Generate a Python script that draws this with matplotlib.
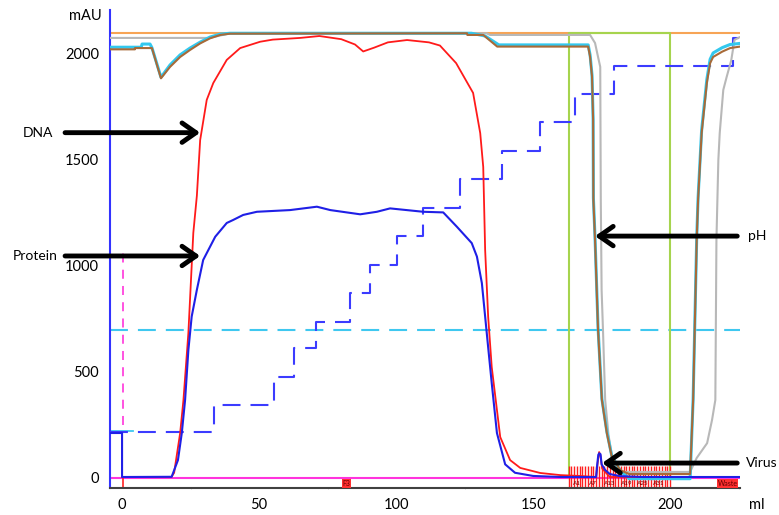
import numpy as np
from matplotlib import pyplot as plt
from matplotlib.ticker import MultipleLocator

plt.rcParams['font.family'] = ['Lato', 'DejaVu Sans']

# --- chromatogram traces (ml, mAU) ---

# DNA (red)
dna_ml = [0, 18, 19, 21.2, 22.4, 24.2, 26.0, 27.3, 28.5, 30.9, 33.3, 38.2, 43.1, 50.4,
          55, 65, 72, 80, 85, 88, 92, 97, 104, 112, 116, 121.9, 128.1, 130.7, 131.8,
          132.5, 133.6, 134.9, 138.0, 141.6, 145.3, 152.6, 159.9, 167, 173, 173.6,
          174.1, 174.6, 175.2, 178, 225.5]
dna_mau = [0, 0, 20, 208, 364, 681, 1154, 1330, 1593, 1783, 1863, 1972, 2028, 2058,
           2068, 2076, 2085, 2070, 2045, 2012, 2030, 2055, 2066, 2055, 2040, 1957, 1816,
           1626, 1466, 1073, 757, 520, 189, 80, 43, 19, 9, 5, 0, 70,
           118, 100, 40, 0, 0]

# Protein (blue)
prot_ml = [-4.4, 0, 0, 18.1, 20.4, 21.8, 23.0, 24.2, 25.4, 27.3, 29.6, 34.0, 38.2, 40.5,
           44.2, 49.2, 61.3, 71.1, 76.0, 86.9, 93.0, 97.8, 109.9, 117.2, 122.2, 127.6,
           129.5, 131.3, 132.5, 133.7, 134.9, 136.8, 139.8, 143.4, 150, 160, 173.0,
           173.4, 173.8, 174.1, 174.6, 175.0, 176.3, 178, 181.8, 190, 225.5]
prot_mau = [208, 208, 0, 1, 80, 208, 364, 600, 758, 885, 1026, 1136, 1201, 1215,
            1239, 1254, 1262, 1278, 1262, 1242, 1254, 1270, 1254, 1251, 1183, 1106,
            1042, 917, 758, 600, 444, 208, 60, 20, 5, 0, 0,
            60, 105, 112, 108, 60, 33, 14, 4, 0, 0]

# pH (brown) and its cyan companion trace
ph_ml = [-4.4, 4.7, 4.7, 10.9, 14.2, 17.5, 21.2, 24.8, 28.5, 32.1, 35.8, 39.4, 125.9,
         126.0, 131.8, 136.9, 170.1, 170.8, 171.5, 171.9, 172.0, 172.6, 173.7, 175.1,
         176.9, 178.7, 181.8, 185, 207.3, 208.4, 209.7, 210.2, 211.5, 213.4, 214.6,
         215.7, 219.0, 221.9, 225.5]
ph_mau = [2022, 2022, 2028, 2028, 1885, 1939, 1986, 2019, 2050, 2074, 2090, 2096, 2098,
          2090, 2090, 2035, 2035, 1986, 1893, 1688, 1310, 1121, 695, 364,
          208, 96, 33, 14, 14, 364, 1121, 1310, 1626, 1863, 1957,
          1986, 2011, 2028, 2035]

cyan_ml = [-4.4, 7.0, 7.3, 10.2, 10.9, 14.2, 17.5, 21.2, 24.8, 28.5, 32.1, 35.8, 39.4,
           127.5, 132.5, 137.5, 170.1, 170.8, 171.5, 171.9, 172.0, 172.6, 173.7, 175.1,
           176.9, 178.7, 181.8, 185, 207.3, 208.4, 209.7, 210.2, 211.5, 213.4, 214.6,
           215.7, 219.0, 221.9, 225.5]
cyan_mau = [2032, 2032, 2047, 2047, 2030, 1890, 1948, 1996, 2028, 2056, 2080, 2094, 2098,
            2098, 2085, 2043, 2043, 1995, 1900, 1695, 1320, 1130, 705, 370,
            215, 100, 30, -8, -8, 370, 1130, 1320, 1640, 1880, 1975,
            2005, 2030, 2045, 2050]

# grey trace
grey_ml = [-4.4, 25, 32, 39.4, 133, 134.3, 170.8, 172.6, 173.7, 174.5, 174.7, 175.0,
           175.5, 176.3, 177.5, 179, 180.7, 207.3, 209.7, 213.5, 215.3, 216.5, 216.9,
           217.6, 218.1, 219.4, 220.6, 222.3, 223.5, 225.5]
grey_mau = [2076, 2076, 2076, 2098, 2098, 2090, 2090, 2052, 1986, 1939, 1310, 884,
            695, 364, 200, 80, 24, 24, 90, 160, 270, 364, 1121,
            1499, 1626, 1830, 1890, 1970, 2067, 2080]

# gradient steps (dashed blue)
step_ml = [-4.4, 33.6, 55.5, 62.8, 70.8, 83.2, 90.5, 100.4, 109.9, 123.4, 138.7, 152.6,
           165.3, 179.6, 223.0, 225.5]
step_mau = [214, 340, 474, 609, 734, 871, 1002, 1141, 1273, 1409, 1543, 1680, 1811,
            1943, 2076, 2076]

orange_level = 2098
cyan_level = 695
pool_start, pool_end = 163.1, 200.0
inject_ml = 0.4
frac_start, frac_end = 163, 200
frac_labels = ['A1', 'A7', 'A13', 'A19', 'A25', 'A31']

fig = plt.figure(figsize=(7.79, 5.15), dpi=100)
ax = fig.add_axes([110/779, 1-488/515, 630/779, 478/515])
ax.set_xlim(-4.4, 225.5)
ax.set_ylim(-52, 2208)

# reference lines
ax.axhline(orange_level, color='#f7a455', lw=1.5, zorder=1)
ax.axhline(cyan_level, color='#3fc8f0', lw=1.5, dashes=(8.6, 4.8), zorder=1)
ax.axhline(-5, color='#ff33dd', lw=1.5, zorder=2)
ax.plot([inject_ml, inject_ml], [246, 1073], color='#ff44dd', lw=1.3, dashes=(5, 4), zorder=2)
ax.plot([inject_ml, inject_ml], [-52, 0], color='#ff2020', lw=1.2, zorder=2, clip_on=False)
ax.plot([-4.4, 4.0], [218, 218], color='#3fc8f0', lw=1.3, zorder=2)

# collected pool (green box)
ax.plot([pool_start, pool_start, pool_end, pool_end], [0, orange_level, orange_level, 0],
        color='#a6d44e', lw=1.5, zorder=2)

# fractions
fracs = np.arange(frac_start, frac_end + 1, 1)
ax.vlines(fracs, -52, 52, color='#ff2020', lw=1.0, zorder=2)
for i, lbl in enumerate(frac_labels):
    ax.text(frac_start + 3 + 6 * i, -30, lbl, fontsize=4.5, color='#700000',
            ha='center', va='center', zorder=3)
for lbl, xm in [('F3', 82), ('Waste', 221)]:
    ax.text(xm, -30, lbl, fontsize=5, color='#600000', ha='center', va='center',
            bbox=dict(boxstyle='square,pad=0.1', fc='#ff3030', ec='none'), zorder=3)

# traces
ax.plot(step_ml, step_mau, drawstyle='steps-post', color='#3b3bff', lw=1.5,
        dashes=(8.6, 4.8), zorder=3)
ax.plot(grey_ml, grey_mau, color='#b8b8b8', lw=1.5, zorder=3)
ax.plot(cyan_ml, cyan_mau, color='#33c8ee', lw=2.2, zorder=4)
ax.plot(ph_ml, ph_mau, color='#a86a38', lw=1.5, zorder=5)
ax.plot(dna_ml, dna_mau, color='#ff1a1a', lw=1.3, zorder=6)
ax.plot(prot_ml, prot_mau, color='#1f1fe6', lw=1.5, zorder=7)

# arrows and labels
arrows = [('DNA', -20.8, 28.5, 1628, -30.7),
          ('Protein', -20.8, 28.5, 1045, -31.8),
          ('pH', 224.5, 172.6, 1139, 231.8),
          ('Virus', 224.5, 175.2, 66, 233.6)]
for name, x0, x1, yv, xt in arrows:
    ax.annotate('', xy=(x1, yv), xytext=(x0, yv), annotation_clip=False,
                arrowprops=dict(arrowstyle='->,head_length=0.5,head_width=0.35',
                                lw=3.5, color='black', mutation_scale=20,
                                shrinkA=0, shrinkB=0), zorder=8)
    ax.text(xt, yv, name, fontsize=10, ha='center', va='center', clip_on=False)

# axes styling
for s in ['top', 'right']:
    ax.spines[s].set_visible(False)
ax.spines['left'].set_color('#3333ff')
ax.spines['left'].set_linewidth(1.5)
ax.spines['bottom'].set_color('#404040')
ax.spines['bottom'].set_linewidth(1.5)
ax.set_xticks([0, 50, 100, 150, 200])
ax.xaxis.set_minor_locator(MultipleLocator(25))
ax.set_yticks([0, 500, 1000, 1500, 2000])
ax.tick_params(axis='x', which='major', length=0, pad=7, labelsize=10.5)
ax.tick_params(axis='x', which='minor', length=2, color='#cccccc', direction='inout')
ax.tick_params(axis='y', length=0, pad=8, labelsize=10.5)
fig.text(85/779, 1-16/515, 'mAU', fontsize=10.5, ha='center', va='center')
fig.text(757/779, 1-505/515, 'ml', fontsize=10.5, ha='center', va='center')

plt.savefig('out.png', dpi=100)
